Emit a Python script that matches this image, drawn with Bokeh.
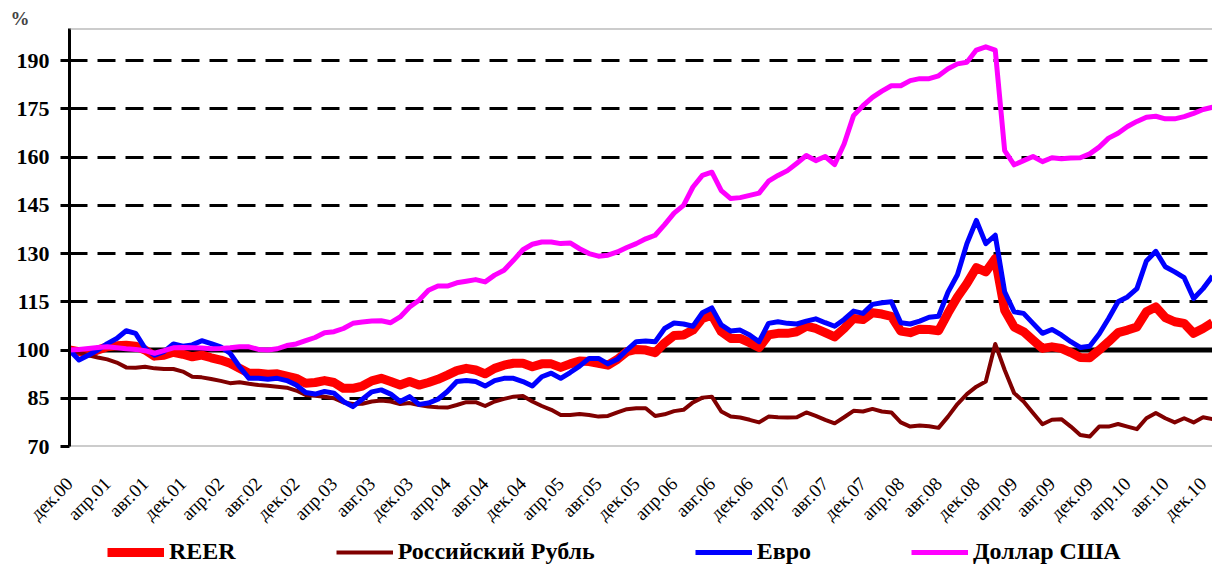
import math
from bokeh.plotting import figure
from bokeh.layouts import column
from bokeh.models import (FixedTicker, Span, Legend, LegendItem, ColumnDataSource)
from bokeh.embed import file_html
from bokeh.resources import INLINE

# ---------------- data ----------------
months_idx = list(range(122))  # Dec 2000 .. Jan 2011

tick_positions = list(range(0, 121, 4))
tick_labels = ["дек.00", "апр.01", "авг.01", "дек.01", "апр.02", "авг.02", "дек.02",
               "апр.03", "авг.03", "дек.03", "апр.04", "авг.04", "дек.04", "апр.05",
               "авг.05", "дек.05", "апр.06", "авг.06", "дек.06", "апр.07", "авг.07",
               "дек.07", "апр.08", "авг.08", "дек.08", "апр.09", "авг.09", "дек.09",
               "апр.10", "авг.10", "дек.10"]

reer = [100, 99.5, 99, 100, 101, 101.3, 101.5, 101.2, 100, 98.1, 98.4, 99.3, 98.7, 97.9,
        98.4, 97.6, 96.9, 95.9, 94.3, 92.8, 92.8, 92.5, 92.6, 91.9, 91.2, 89.7, 89.9, 90.5,
        89.9, 88.1, 88.1, 88.8, 90.4, 91.2, 90.2, 89.1, 90.2, 89.1, 89.9, 90.9, 92.2, 93.6,
        94.3, 93.8, 92.6, 94.3, 95.3, 95.9, 95.9, 94.8, 95.7, 95.7, 94.6, 95.7, 96.6, 96.4,
        95.9, 95.3, 97.1, 99.5, 100.2, 100, 99.2, 102.2, 104.5, 104.7, 106.2, 109.8, 110.9,
        105.7, 103.6, 103.6, 102.3, 100.8, 104.7, 105.2, 105.2, 105.7, 107.4, 106.7, 105.4,
        104.1, 106.7, 109.8, 109.5, 111.6, 111.2, 110.5, 105.9, 105.4, 106.5, 106.4, 106,
        111.5, 116.5, 120.7, 125.6, 124.3, 128.4, 112.4, 107.2, 105.7, 103.1, 100.5, 101,
        100.5, 99.2, 97.7, 97.6, 100, 102.6, 105.4, 106.2, 107.2, 111.9, 113.4, 110.1, 108.8,
        108.3, 105.2, 106.7, 108.5]

rub = [100, 99.2, 98.4, 97.7, 97.1, 96.1, 94.6, 94.5, 94.8, 94.3, 94.1, 94.1, 93.3, 91.7,
       91.5, 91, 90.4, 89.7, 90, 89.5, 89.1, 88.9, 88.6, 88.3, 87.4, 86, 85.8, 85.5, 85,
       83.7, 83.2, 83.3, 84, 84.3, 84, 83.2, 83.5, 82.9, 82.4, 82.2, 82.1, 82.9, 83.8, 83.8,
       82.6, 84, 84.8, 85.5, 85.7, 84, 82.6, 81.4, 79.8, 79.8, 80.1, 79.8, 79.3, 79.5, 80.6,
       81.6, 81.9, 81.9, 79.5, 80, 81, 81.4, 83.7, 85.2, 85.5, 80.9, 79.3, 79, 78.3, 77.5,
       79.3, 79.1, 79, 79.1, 80.6, 79.5, 78.3, 77.2, 79.1, 81.1, 80.9, 81.7, 80.9, 80.6,
       77.5, 76.2, 76.5, 76.3, 75.8, 79.3, 83.2, 86.3, 88.6, 90.2, 101.9, 93.8, 86.6, 84,
       80.4, 76.9, 78.3, 78.5, 76.2, 73.6, 73.1, 76.2, 76.2, 77, 76.2, 75.4, 78.8, 80.4,
       78.8, 77.5, 78.8, 77.5, 79.1, 78.5]

eur = [100, 96.9, 98.4, 100, 102, 103.6, 106, 105.2, 100.5, 98.4, 99.5, 101.9, 101.2, 101.6,
       102.9, 102, 101, 99, 94.8, 91.2, 91.2, 90.9, 91.2, 90.5, 89.1, 86.8, 86.3, 87.1, 86.6,
       84, 82.4, 84.7, 87, 87.6, 86.3, 84, 85.5, 83.1, 83.5, 84.7, 87.1, 90.2, 90.5, 90.2,
       88.8, 90.5, 91.2, 91.2, 90.2, 88.8, 91.7, 92.8, 91.2, 93, 95, 97.4, 97.4, 95.7, 97.1,
       100, 102.6, 102.8, 102.6, 106.7, 108.4, 108.1, 107.4, 111.6, 113.1, 107.8, 105.9,
       106.2, 104.7, 102.6, 108.3, 108.8, 108.3, 108.1, 109, 109.7, 108.5, 107.4, 109.5,
       112.1, 111.4, 114.2, 114.7, 115, 108.5, 108.1, 109, 110.2, 110.5, 118, 123.4, 133.1,
       140.3, 133.1, 135.7, 118.1, 111.9, 111.4, 108.3, 105.2, 106.4, 104.7, 102.6, 100.8,
       101.2, 105, 109.8, 115, 116.5, 119.1, 127.7, 130.7, 125.9, 124.3, 122.5, 116, 119.1,
       123]

usd = [100, 100.2, 100.5, 100.8, 101, 100.7, 100.4, 100.2, 99.8, 99, 99.8, 100.7, 100.8,
       100.7, 100.6, 100.4, 100.5, 100.7, 101, 101, 100.2, 100, 100.4, 101.4, 101.9, 102.9,
       103.9, 105.4, 105.7, 106.7, 108.3, 108.7, 109, 109.1, 108.5, 110.3, 113.4, 115.5,
       118.6, 119.9, 119.9, 120.9, 121.4, 121.9, 121.2, 123.3, 124.8, 127.9, 131.2, 132.9,
       133.6, 133.6, 133.1, 133.3, 131.5, 130, 129.2, 129.5, 130.5, 131.9, 133.1, 134.6,
       135.7, 139, 142.6, 145, 150.7, 154.3, 155.3, 149.6, 147.1, 147.4, 148.1, 148.8, 152.5,
       154.3, 155.8, 158.1, 160.5, 158.9, 160.2, 157.7, 164.1, 172.9, 176, 178.6, 180.5,
       182.2, 182.2, 183.8, 184.4, 184.4, 185.3, 187.5, 189, 189.5, 193.3, 194.3, 193.3, 162,
       157.6, 158.9, 160.2, 158.6, 159.8, 159.5, 159.7, 159.8, 161, 163.1, 165.9, 167.4,
       169.5, 171.1, 172.4, 172.7, 171.9, 171.9, 172.6, 173.6, 174.8, 175.5]

series_names = ["REER", "Российский Рубль", "Евро", "Доллар США"]
series_colors = ["#ff0000", "#800000", "#0000ff", "#ff00ff"]
series_widths = [9, 4, 5, 5]

y_ticks = [70, 85, 100, 115, 130, 145, 160, 175, 190]

# ---------------- chart figure ----------------
FONT = "Liberation Serif"

p = figure(width=1212, height=536, output_backend="svg", toolbar_location=None,
           x_range=(0, 121), y_range=(70, 200),
           min_border_left=69, min_border_right=0, min_border_top=28,
           min_border_bottom=90)
p.outline_line_color = None
p.background_fill_color = "white"
p.border_fill_color = "white"

p.title.text = "%"
p.title.text_font = FONT
p.title.text_font_style = "bold"
p.title.text_font_size = "19px"
p.title.align = "left"
p.title.offset = -59
p.title.standoff = 0

p.xgrid.grid_line_color = None
p.ygrid.ticker = FixedTicker(ticks=y_ticks)
p.ygrid.grid_line_color = "black"
p.ygrid.grid_line_width = 3
p.ygrid.grid_line_dash = "18 10"

p.yaxis.ticker = FixedTicker(ticks=y_ticks)
p.yaxis.axis_line_width = 3
p.yaxis.axis_line_color = "black"
p.yaxis.major_tick_line_width = 3
p.yaxis.major_tick_out = 9
p.yaxis.major_tick_in = 0
p.yaxis.minor_tick_line_color = None
p.yaxis.major_label_text_font = FONT
p.yaxis.major_label_text_font_style = "bold"
p.yaxis.major_label_text_font_size = "22px"
p.yaxis.major_label_text_color = "black"
p.yaxis.major_label_standoff = 11

p.xaxis.ticker = FixedTicker(ticks=tick_positions)
p.xaxis.major_label_overrides = {t: l for t, l in zip(tick_positions, tick_labels)}
p.xaxis.major_label_orientation = math.pi / 4
p.xaxis.axis_line_color = None
p.xaxis.major_tick_line_color = None
p.xaxis.minor_tick_line_color = None
p.xaxis.major_label_text_font = FONT
p.xaxis.major_label_text_font_size = "19px"
p.xaxis.major_label_text_color = "black"
p.xaxis.major_label_standoff = 28

p.add_layout(Span(location=200, dimension="width", line_color="#999999", line_width=2))
p.add_layout(Span(location=70, dimension="width", line_color="#999999", line_width=2,
                  level="underlay"))
p.add_layout(Span(location=100, dimension="width", line_color="black", line_width=5,
                  level="underlay"))

sources = []
for ys, col, w in zip([reer, rub, eur, usd], series_colors, series_widths):
    src = ColumnDataSource(dict(x=months_idx, y=ys))
    sources.append(src)
    p.line("x", "y", source=src, line_color=col, line_width=w, line_join="round")

# ---------------- legend strip ----------------
# same series, drawn outside this strip's visible range, only to key the legend
leg = figure(width=1212, height=30, output_backend="svg", toolbar_location=None,
             x_axis_location=None, y_axis_location=None,
             x_range=(0, 121), y_range=(0, 1),
             min_border_left=0, min_border_right=0, min_border_top=0, min_border_bottom=0)
leg.outline_line_color = None
leg.grid.visible = False
leg.border_fill_color = "white"
leg.background_fill_color = "white"

items = []
for name, src, col, w in zip(series_names, sources, series_colors, series_widths):
    r = leg.line("x", "y", source=src, line_color=col, line_width=w)
    items.append(LegendItem(label=name, renderers=[r]))

legend = Legend(items=items, orientation="horizontal", location=(38, 1),
                spacing=100, glyph_width=57, glyph_height=20, label_standoff=5,
                padding=0, margin=0, border_line_color=None, background_fill_alpha=0,
                label_text_font=FONT, label_text_font_style="bold",
                label_text_font_size="24px", label_text_color="black")
leg.add_layout(legend, "center")

layout = column(p, leg, spacing=0)
open("out.html", "w").write(file_html(layout, INLINE))
